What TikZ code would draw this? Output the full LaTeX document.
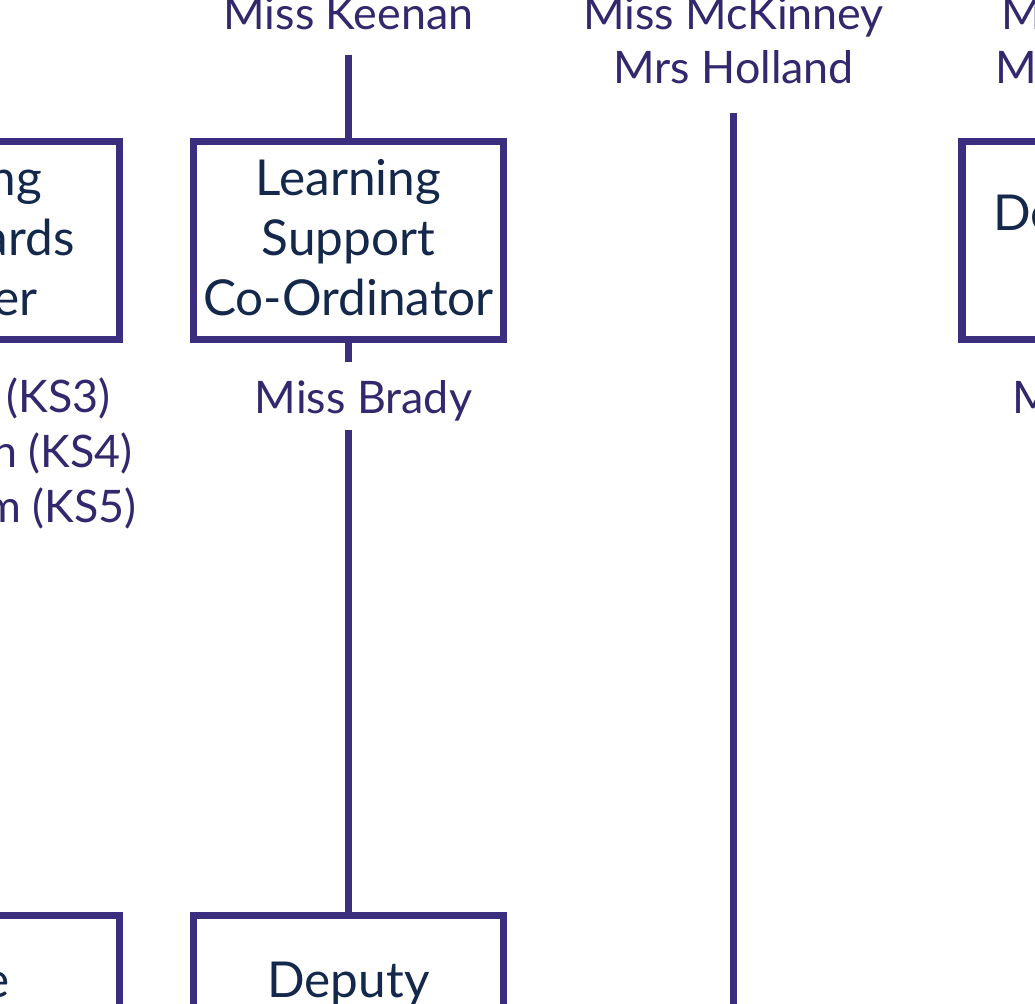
\documentclass[tikz,border=0pt]{standalone}
\usepackage{fontspec}
\setmainfont{Lato}
\definecolor{linecol}{HTML}{3B2E7E}
\definecolor{boxtext}{HTML}{14284B}
\definecolor{nametext}{HTML}{33286E}
\begin{document}
\begin{tikzpicture}[x=1pt,y=-1pt,
  rolebox/.style={draw=linecol, line width=7.5pt, minimum width=310pt, minimum height=198pt,
    inner sep=0pt},
  roletext/.style={align=center, text=boxtext, font=\fontsize{49.5}{60}\selectfont, inner sep=0pt},
  boxfrag/.style={text=boxtext, font=\fontsize{49.5}{60}\selectfont, inner sep=0pt},
  persontext/.style={text=nametext, font=\fontsize{44.8}{55}\selectfont, inner sep=0pt},
  link/.style={draw=linecol, line width=7.5pt}]
\useasboundingbox (0,0) rectangle (1035,1003);
\clip (0,0) rectangle (1035,1003);
\fill[white] (0,0) rectangle (1035,1003);

% left column (partially visible)
\node[rolebox] (lbox) at (-35.5,240.5) {};
\node[boxfrag, anchor=base east] (lf1) at (42,195) {ng};
\node[boxfrag, anchor=base east] (lf2) at (75,255) {ards};
\node[boxfrag, anchor=base east] (lf3) at (38,315) {er};
\node[persontext, anchor=base east] (ln1) at (111,412) {(KS3)};
\node[persontext, anchor=base east] (ln2) at (133,467) {n (KS4)};
\node[persontext, anchor=base east] (ln3) at (137,522) {m (KS5)};
\node[rolebox] (lbox2) at (-35.5,1014.5) {};
\node[boxfrag, anchor=base east] (lf4) at (10,997) {e};

% learning support column
\node[persontext, anchor=base] (keenan) at (348.5,30) {Miss Keenan};
\node[rolebox] (lsc) at (348.5,240.5) {};
\node[roletext] (lsct) at ([yshift=3pt]lsc.center) {Learning\\Support\\Co-Ordinator};
\node[persontext, anchor=base] (brady) at (363.5,413) {Miss Brady};
\node[rolebox] (dep) at (348.5,1014.5) {};
\node[boxfrag, anchor=base] (dept) at (348.5,997) {Deputy};
\coordinate (k1) at (348.5,55);
\coordinate (b1) at (348.5,362);
\coordinate (b2) at (348.5,430);
\draw[link] (k1) -- (lsc.north);
\draw[link] (lsc.south) -- (b1);
\draw[link] (b2) -- (dep.north);

% middle column
\node[persontext, anchor=base] (mck) at (733.5,30) {Miss McKinney};
\node[persontext, anchor=base] (hol) at (733.5,84) {Mrs Holland};
\coordinate (m1) at (733.5,113);
\coordinate (m2) at (733.5,1010);
\draw[link] (m1) -- (m2);

% right column (partially visible)
\node[rolebox] (rbox) at (1117,240.5) {};
\node[boxfrag, anchor=base west] (rf1) at (993,230) {De};
\node[persontext, anchor=base west] (rn1) at (1001,30) {M};
\node[persontext, anchor=base west] (rn2) at (995,84) {Mr};
\node[persontext, anchor=base west] (rn3) at (1012,413) {M};
\end{tikzpicture}
\end{document}
